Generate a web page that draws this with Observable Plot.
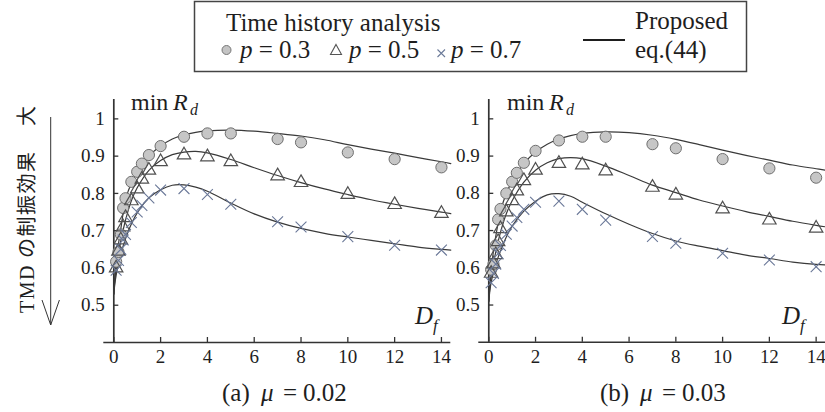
<!DOCTYPE html>
<html><head><meta charset="utf-8">
<script src="https://cdn.jsdelivr.net/npm/d3@7"></script>
<script src="https://cdn.jsdelivr.net/npm/@observablehq/plot@0.6"></script>
<style>
html,body{margin:0;padding:0;background:#fff;}
#root{position:relative;width:825px;height:412px;overflow:hidden;background:#fff;font-family:"Liberation Serif","Times New Roman",serif;}
.panel{position:absolute;top:80px;}
#panelA{left:0px;width:460px;}
#panelB{left:458px;width:367px;}
#overlay{position:absolute;left:0;top:0;pointer-events:none;}
</style></head><body>
<div id="root">
  <div id="panelA" class="panel"></div>
  <div id="panelB" class="panel"></div>
  <svg id="overlay" width="825" height="412" font-family="Liberation Serif" fill="#1e1e1e">
    <!-- legend -->
    <rect x="194.5" y="1.5" width="552" height="70" fill="none" stroke="#444" stroke-width="1.5"/>
    <text x="226" y="31" font-size="25">Time history analysis</text>
    <circle cx="226.5" cy="50" r="4.5" fill="#c4c4c4" stroke="#777" stroke-width="1"/>
    <text x="240" y="58" font-size="25"><tspan font-style="italic">p</tspan> = 0.3</text>
    <path d="M336,44.5 L341.5,54.5 L330.5,54.5 Z" fill="none" stroke="#555" stroke-width="1.1"/>
    <text x="349" y="58" font-size="25"><tspan font-style="italic">p</tspan> = 0.5</text>
    <path d="M437.5,49.5 L445,57 M445,49.5 L437.5,57" stroke="#6b7a99" stroke-width="1.1"/>
    <text x="451" y="58" font-size="25"><tspan font-style="italic">p</tspan> = 0.7</text>
    <line x1="583" x2="625" y1="40" y2="40" stroke="#1e1e1e" stroke-width="2"/>
    <text x="635" y="29" font-size="25">Proposed</text>
    <text x="635" y="58" font-size="25">eq.(44)</text>
    <!-- y label -->
    <text transform="translate(34,313) rotate(-90)" font-size="20" textLength="161" lengthAdjust="spacing"><tspan font-family="Liberation Serif">TMD</tspan><tspan font-family="Noto Sans CJK JP" font-size="20"> の制振効果</tspan></text>
    <text transform="translate(34,126) rotate(-90)" font-size="20" font-family="Noto Sans CJK JP">大</text>
    <line x1="50.7" x2="50.7" y1="117" y2="325" stroke="#333" stroke-width="1"/>
    <polyline points="42,300 50.7,325 59.4,300" fill="none" stroke="#333" stroke-width="1"/>
    <!-- panel labels -->
    <text x="131" y="110" font-size="24">min</text>
    <text x="173" y="110" font-size="24" font-style="italic">R</text>
    <text x="190" y="115" font-size="16" font-style="italic">d</text>
    <text x="507" y="110" font-size="24">min</text>
    <text x="549" y="110" font-size="24" font-style="italic">R</text>
    <text x="566" y="115" font-size="16" font-style="italic">d</text>
    <text x="415" y="324" font-size="25" font-style="italic">D</text>
    <text x="433" y="331" font-size="17" font-style="italic">f</text>
    <text x="782" y="324" font-size="25" font-style="italic">D</text>
    <text x="800" y="331" font-size="17" font-style="italic">f</text>
    <!-- captions -->
    <text x="222" y="401" font-size="25">(a)</text>
    <text x="261" y="401" font-size="25" font-style="italic">μ</text>
    <text x="283" y="401" font-size="25">=</text>
    <text x="303" y="401" font-size="25">0.02</text>
    <text x="600" y="401" font-size="25">(b)</text>
    <text x="640" y="401" font-size="25" font-style="italic">μ</text>
    <text x="662" y="401" font-size="25">=</text>
    <text x="682" y="401" font-size="25">0.03</text>
  </svg>
</div>
<script>
// ---- data ----
const xTicks = [0, 2, 4, 6, 8, 10, 12, 14];
const xTickLabels = ["0", "2", "4", "6", "8", "10", "12", "14"];
const yTicks = [0.5, 0.6, 0.7, 0.8, 0.9, 1];
const yTickLabels = ["0.5", "0.6", "0.7", "0.8", "0.9", "1"];
const seriesP = ["0.3", "0.5", "0.7"];

// Time history analysis points (D_f values)
const dfPoints = [0.1, 0.2, 0.3, 0.4, 0.5, 0.75, 1, 1.2, 1.5, 2, 3, 4, 5, 7, 8, 10, 12, 14];
// (a) mu = 0.02
const thA_p03 = [0.617, 0.643, 0.69, 0.761, 0.787, 0.831, 0.858, 0.880, 0.903, 0.927, 0.952, 0.961, 0.961, 0.946, 0.937, 0.910, 0.892, 0.870];
const thA_p05 = [0.600, 0.645, 0.675, 0.710, 0.735, 0.780, 0.812, 0.838, 0.862, 0.885, 0.903, 0.898, 0.885, 0.847, 0.829, 0.797, 0.770, 0.746];
const thA_p07 = [0.594, 0.620, 0.650, 0.675, 0.690, 0.722, 0.750, 0.768, 0.788, 0.809, 0.813, 0.797, 0.771, 0.724, 0.710, 0.684, 0.661, 0.648];
// (b) mu = 0.03
const thB_p03 = [0.595, 0.610, 0.660, 0.730, 0.758, 0.800, 0.831, 0.855, 0.882, 0.914, 0.942, 0.952, 0.952, 0.932, 0.921, 0.892, 0.867, 0.842];
const thB_p05 = [0.585, 0.610, 0.635, 0.670, 0.705, 0.750, 0.780, 0.806, 0.834, 0.862, 0.880, 0.876, 0.860, 0.816, 0.795, 0.758, 0.728, 0.706];
const thB_p07 = [0.560, 0.585, 0.610, 0.638, 0.660, 0.690, 0.712, 0.735, 0.757, 0.776, 0.779, 0.757, 0.728, 0.684, 0.666, 0.639, 0.621, 0.603];

// Proposed eq.(44) curves
const dfCurve = [0, 0.05, 0.1, 0.2, 0.3, 0.5, 0.75, 1, 1.5, 2, 2.5, 3, 3.5, 4, 5, 6, 7, 8, 9, 10, 11, 12, 13, 14, 14.4];
const eqA_p03 = [0.53, 0.58, 0.617, 0.665, 0.705, 0.782, 0.828, 0.857, 0.900, 0.927, 0.946, 0.957, 0.964, 0.968, 0.970, 0.967, 0.961, 0.954, 0.944, 0.931, 0.919, 0.908, 0.896, 0.885, 0.880];
const eqA_p05 = [0.53, 0.57, 0.600, 0.640, 0.673, 0.728, 0.780, 0.815, 0.862, 0.888, 0.904, 0.911, 0.913, 0.909, 0.891, 0.869, 0.848, 0.829, 0.812, 0.797, 0.783, 0.771, 0.760, 0.750, 0.746];
const eqA_p07 = [0.53, 0.56, 0.580, 0.612, 0.638, 0.678, 0.718, 0.748, 0.788, 0.810, 0.822, 0.823, 0.817, 0.806, 0.774, 0.745, 0.723, 0.706, 0.693, 0.683, 0.674, 0.665, 0.656, 0.650, 0.648];
const eqB_p03 = [0.51, 0.56, 0.595, 0.645, 0.685, 0.750, 0.800, 0.832, 0.880, 0.911, 0.932, 0.946, 0.955, 0.961, 0.965, 0.963, 0.956, 0.945, 0.931, 0.916, 0.902, 0.889, 0.876, 0.866, 0.862];
const eqB_p05 = [0.51, 0.55, 0.575, 0.612, 0.643, 0.695, 0.745, 0.780, 0.830, 0.862, 0.882, 0.893, 0.896, 0.893, 0.873, 0.848, 0.822, 0.802, 0.782, 0.766, 0.751, 0.738, 0.725, 0.714, 0.710];
const eqB_p07 = [0.51, 0.54, 0.560, 0.588, 0.610, 0.645, 0.683, 0.712, 0.752, 0.779, 0.796, 0.799, 0.792, 0.776, 0.745, 0.717, 0.692, 0.672, 0.658, 0.646, 0.634, 0.625, 0.615, 0.609, 0.608];

// ---- build tables ----
function pointTable(cols) {
  const out = [];
  cols.forEach((vals, k) => dfPoints.forEach((x, i) => out.push({x, y: vals[i], p: seriesP[k]})));
  return out;
}
function curveTable(cols) {
  const out = [];
  cols.forEach((vals, k) => dfCurve.forEach((x, i) => out.push({x, y: vals[i], p: seriesP[k]})));
  return out;
}

const X_DOMAIN = [0, 14.4];
const Y_DOMAIN = [0.4, 1.052];
const H = 292, MT = 19, MB = 30, INNER_W = 337;

function panel(pts, curves, width, marginLeft) {
  const pxPerX = INNER_W / (X_DOMAIN[1] - X_DOMAIN[0]);
  const pxPerY = (H - MT - MB) / (Y_DOMAIN[1] - Y_DOMAIN[0]);
  const tickX = 5 / pxPerY, tickY = 5 / pxPerX;
  const axisStart = -10 / pxPerX;
  return Plot.plot({
    width, height: H,
    marginLeft, marginRight: width - marginLeft - INNER_W, marginTop: MT, marginBottom: MB,
    x: {domain: X_DOMAIN, label: null},
    y: {domain: Y_DOMAIN, label: null},
    style: {background: "transparent", fontFamily: "Liberation Serif", color: "#1e1e1e", overflow: "visible"},
    marks: [
      Plot.axisX(xTicks, {tickSize: 0, tickPadding: 7, fontSize: 19, fill: "#1e1e1e", tickFormat: (d, i) => xTickLabels[i]}),
      Plot.axisY(yTicks, {tickSize: 0, tickPadding: 9, fontSize: 19, fill: "#1e1e1e", tickFormat: (d, i) => yTickLabels[i]}),
      Plot.ruleX(xTicks, {x: d => d, y1: Y_DOMAIN[0], y2: Y_DOMAIN[0] + tickX, stroke: "#333", strokeWidth: 1.3}),
      Plot.ruleY(yTicks, {y: d => d, x1: 0, x2: tickY, stroke: "#333", strokeWidth: 1.3}),
      Plot.ruleX([0], {stroke: "#333", strokeWidth: 1.7}),
      Plot.ruleY([Y_DOMAIN[0]], {x1: axisStart, x2: X_DOMAIN[1], stroke: "#333", strokeWidth: 1.7}),
      Plot.line(curves, {x: "x", y: "y", z: "p", curve: "catmull-rom", stroke: "#3a3a3a", strokeWidth: 1.2}),
      Plot.dot(pts.filter(d => d.p === "0.3"), {x: "x", y: "y", r: 5.6, fill: "#c6c6c6", stroke: "#6e6e6e", strokeWidth: 1}),
      Plot.dot(pts.filter(d => d.p === "0.5"), {x: "x", y: "y", symbol: "triangle", r: 5, fill: "none", stroke: "#505050", strokeWidth: 1.2}),
      Plot.dot(pts.filter(d => d.p === "0.7"), {x: "x", y: "y", symbol: "times", r: 5, stroke: "#6a7898", strokeWidth: 1.1})
    ]
  });
}

document.getElementById("panelA").append(
  panel(pointTable([thA_p03, thA_p05, thA_p07]), curveTable([eqA_p03, eqA_p05, eqA_p07]), 460, 113.3)
);
document.getElementById("panelB").append(
  panel(pointTable([thB_p03, thB_p05, thB_p07]), curveTable([eqB_p03, eqB_p05, eqB_p07]), 367.3, 30.3)
);
</script>
</body></html>
